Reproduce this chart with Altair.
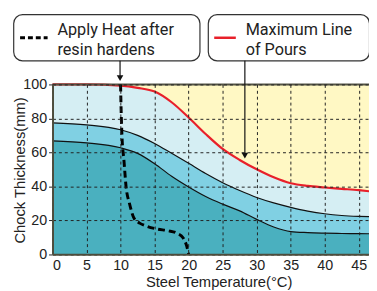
import altair as alt
import pandas as pd

# ---- data ----
temps = [0, 5, 10, 12.5, 15, 17.5, 20, 22.5, 25, 27.5, 30, 32.5, 35, 37.5, 40, 42.5, 45, 46.7]
max_pour = [100, 100, 99.3, 98, 95.8, 89.5, 80.5, 70.8, 62, 55.5, 50, 45.3, 41.8, 40.2, 39.3, 38.5, 37.7, 37]
upper = [77.4, 76.2, 73.3, 70, 65.2, 59.4, 53.5, 47.5, 42.1, 37.5, 33.4, 30.2, 27.6, 25.4, 23.8, 22.8, 22.3, 22.1]
lower = [66.8, 65.6, 62.7, 59.4, 53.3, 45.9, 39.6, 34, 29.5, 25.5, 20.5, 16, 13.3, 12.7, 12.4, 12.2, 12.1, 12]

heat_x = [10, 10.05, 10.2, 10.5, 10.8, 11.3, 12, 12.8, 13.6, 15.4, 17, 18.3, 19.2, 19.7, 20]
heat_y = [100, 90, 70, 55, 40, 30, 21, 18.3, 16.8, 14.8, 13.8, 12.3, 9.5, 5, 0]

x_ticks = [0, 5, 10, 15, 20, 25, 30, 35, 40, 45]
y_ticks = [0, 20, 40, 60, 80, 100]
X_MAX = 46.5

FONT = "Liberation Sans"
ANN_FONT = "Roboto"
df = pd.DataFrame({"t": temps, "red": max_pour, "up": upper, "lo": lower, "top": [100] * len(temps)})
heat = pd.DataFrame({"t": heat_x, "v": heat_y, "o": list(range(len(heat_x)))})

xs = alt.Scale(domain=[0, X_MAX], nice=False, zero=False)
ys = alt.Scale(domain=[0, 100], nice=False)

xax = alt.Axis(values=x_ticks, title="Steel Temperature(°C)", grid=True, gridDash=[3, 3],
               gridColor="#222", gridWidth=1, ticks=False, labelPadding=5, titlePadding=2,
               titleX=169, zindex=1, labelOverlap=False)
yax = alt.Axis(values=y_ticks, title="Chock Thickness(mm)", grid=True, gridDash=[3, 3],
               gridColor="#222", gridWidth=1, tickSize=4, tickColor="#222", labelPadding=2,
               titleX=-33, titleY=87, titleAlign="center", titleBaseline="middle", titleAngle=270,
               zindex=1, labelOverlap=False)


def X(f):
    return alt.X(f"{f}:Q", scale=xs, axis=xax)


def Y(f):
    return alt.Y(f"{f}:Q", scale=ys, axis=yax)


base = alt.Chart(df)

yellow = base.mark_area(color="#FFF8C4", opacity=1).encode(x=X("t"), y=Y("top"))
light = base.mark_area(color="#D5EEF3", opacity=1, interpolate="monotone").encode(x=X("t"), y=Y("red"))
med = base.mark_area(color="#80D0E3", opacity=1, interpolate="monotone").encode(x=X("t"), y=Y("up"))
dark = base.mark_area(color="#4AB0BF", opacity=1, interpolate="monotone").encode(x=X("t"), y=Y("lo"))

l_up = base.mark_line(color="#111", strokeWidth=1.2, interpolate="monotone").encode(x=X("t"), y=Y("up"))
l_lo = base.mark_line(color="#111", strokeWidth=1.2, interpolate="monotone").encode(x=X("t"), y=Y("lo"))
l_red = base.mark_line(color="#E8202A", strokeWidth=2.2, interpolate="monotone").encode(x=X("t"), y=Y("red"))

topline = alt.Chart(pd.DataFrame({"v": [100]})).mark_rule(color="#555545", strokeWidth=2).encode(y=Y("v"))

l_heat = alt.Chart(heat).mark_line(color="#000", strokeWidth=3, strokeDash=[7, 4],
                                   interpolate="monotone").encode(x=X("t"), y=Y("v"), order="o:Q")


# ---- annotation boxes ----
def box(x1, x2):
    return alt.Chart(pd.DataFrame({"a": [0]})).mark_rect(
        fill="white", stroke="#333", strokeWidth=1.2, cornerRadius=9).encode(
        x=alt.value(x1), x2=alt.value(x2), y=alt.value(-71), y2=alt.value(-24))


def txt(s, x, y):
    return alt.Chart(pd.DataFrame({"a": [0]})).mark_text(
        text=s, align="left", baseline="alphabetic", font=ANN_FONT, fontSize=16.5, color="#222").encode(
        x=alt.value(x), y=alt.value(y))


def seg(x1, x2, y1, y2, color, w, dash=None):
    kw = dict(color=color, strokeWidth=w)
    if dash:
        kw["strokeDash"] = dash
    return alt.Chart(pd.DataFrame({"a": [0]})).mark_rule(**kw).encode(
        x=alt.value(x1), x2=alt.value(x2), y=alt.value(y1), y2=alt.value(y2))


def head(x, y):
    return alt.Chart(pd.DataFrame({"a": [0]})).mark_point(
        shape="triangle-down", filled=True, color="#111", size=45, opacity=1).encode(
        x=alt.value(x), y=alt.value(y))


ann = [
    box(-39.5, 150), box(158.5, 322.5),
    txt("Apply Heat after", 5, -50.5), txt("resin hardens", 5, -30),
    txt("Maximum Line", 196.5, -50.5), txt("of Pours", 196.5, -30),
    seg(-33, -5, -47.5, -47.5, "#000", 3, [5, 3]),
    seg(164.5, 186.5, -47.5, -47.5, "#E8202A", 2.5),
    seg(68.7, 68.7, -24, -6, "#111", 1.2), head(68.7, -6.5),
    seg(195.7, 195.7, -24, 72, "#111", 1.2), head(195.7, 72.5),
]

chart = alt.layer(yellow, light, med, dark, l_up, l_lo, l_red, topline, l_heat, *ann).properties(
    width=322, height=172.7,
    autosize=alt.AutoSizeParams(type="none"),
    padding={"left": 45.3, "top": 75.3, "right": 0, "bottom": 35},
).configure_view(stroke=None).configure_axis(
    labelFont=FONT, titleFont=FONT, labelFontSize=14.5, titleFontSize=15,
    labelColor="#222", titleColor="#222", titleFontWeight="normal",
    domainColor="#4d4d3d", domainWidth=2,
)

chart.save("out.html", embed_options={"renderer": "svg", "actions": False})
